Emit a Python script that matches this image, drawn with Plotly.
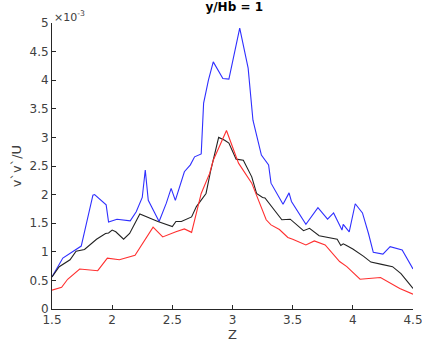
import plotly.graph_objects as go

# values in units of 1e-3
blue_z = [1.50, 1.59, 1.743, 1.84, 1.854, 1.95, 1.97, 2.04, 2.15, 2.20, 2.25, 2.275, 2.30, 2.35, 2.39,
          2.45, 2.49, 2.525, 2.575, 2.60, 2.65, 2.685, 2.74, 2.76, 2.80, 2.84, 2.92, 2.97, 3.06, 3.13,
          3.17, 3.24, 3.30, 3.32, 3.42, 3.47, 3.49, 3.61, 3.71, 3.79, 3.84, 3.91, 3.92, 3.97, 4.02,
          4.08, 4.13, 4.17, 4.25, 4.31, 4.41, 4.50]
blue_v = [0.56, 0.89, 1.10, 1.99, 2.00, 1.82, 1.52, 1.57, 1.54, 1.70, 1.95, 2.43, 1.90, 1.70, 1.53,
          1.85, 2.11, 1.90, 2.25, 2.40, 2.52, 2.66, 2.71, 3.60, 4.00, 4.32, 4.03, 4.02, 4.91, 4.21,
          3.30, 2.69, 2.52, 2.20, 1.83, 2.03, 1.88, 1.48, 1.77, 1.57, 1.68, 1.38, 1.48, 1.35, 1.84,
          1.68, 1.32, 0.99, 0.96, 1.09, 1.03, 0.70]

black_z = [1.50, 1.56, 1.65, 1.70, 1.77, 1.87, 1.945, 1.97, 2.00, 2.03, 2.095, 2.145, 2.23, 2.31,
           2.38, 2.50, 2.53, 2.575, 2.62, 2.66, 2.70, 2.78, 2.82, 2.885, 2.935, 2.97, 3.03, 3.09,
           3.16, 3.20, 3.25, 3.27, 3.41, 3.48, 3.59, 3.64, 3.72, 3.78, 3.87, 3.90, 3.92, 3.94, 4.00,
           4.09, 4.15, 4.24, 4.33, 4.40, 4.50]
black_v = [0.56, 0.74, 0.86, 1.01, 1.04, 1.22, 1.32, 1.33, 1.38, 1.35, 1.22, 1.32, 1.66, 1.59,
           1.53, 1.44, 1.53, 1.53, 1.57, 1.61, 1.79, 2.02, 2.43, 3.00, 2.95, 2.90, 2.62, 2.60,
           2.31, 2.02, 1.95, 1.94, 1.56, 1.57, 1.37, 1.41, 1.28, 1.26, 1.22, 1.11, 1.14, 1.12, 1.05,
           0.92, 0.82, 0.78, 0.74, 0.62, 0.36]

red_z = [1.50, 1.58, 1.63, 1.73, 1.88, 1.96, 2.06, 2.19, 2.34, 2.42, 2.53, 2.60, 2.66, 2.74, 2.81,
         2.84, 2.95, 3.05, 3.16, 3.28, 3.32, 3.39, 3.46, 3.50, 3.61, 3.68, 3.77, 3.89, 3.95, 4.06,
         4.23, 4.39, 4.50]
red_v = [0.33, 0.38, 0.52, 0.70, 0.67, 0.89, 0.86, 0.94, 1.43, 1.26, 1.35, 1.40, 1.34, 2.02, 2.37,
         2.60, 3.12, 2.55, 2.20, 1.56, 1.47, 1.39, 1.25, 1.22, 1.12, 1.19, 1.12, 0.83, 0.74, 0.52,
         0.55, 0.36, 0.26]

x_ticks = [1.5, 2, 2.5, 3, 3.5, 4, 4.5]
y_ticks = [0, 0.5, 1, 1.5, 2, 2.5, 3, 3.5, 4, 4.5, 5]

fig = go.Figure()
fig.add_trace(go.Scatter(x=blue_z, y=blue_v, mode="lines", line=dict(color="#2f2fff", width=1.1)))
fig.add_trace(go.Scatter(x=black_z, y=black_v, mode="lines", line=dict(color="#222222", width=1.1)))
fig.add_trace(go.Scatter(x=red_z, y=red_v, mode="lines", line=dict(color="#ff2f2f", width=1.1)))

axis_font = dict(family="DejaVu Sans", size=12, color="#404040")
fig.update_layout(
    width=422, height=347,
    margin=dict(l=52, r=9, t=23, b=38),
    paper_bgcolor="white", plot_bgcolor="white",
    showlegend=False,
    title=dict(text="<b>y/Hb = 1</b>", x=0.555, xanchor="center", y=0.992, yanchor="top",
               font=dict(family="DejaVu Sans", size=12, color="black")),
    xaxis=dict(range=[1.5, 4.5], tickvals=x_ticks, ticktext=[str(t) for t in x_ticks],
               automargin=False, ticklabeloverflow="allow",
               showgrid=False, zeroline=False, showline=True, linecolor="#262626", linewidth=1,
               ticks="inside", ticklen=4, tickcolor="#262626", tickfont=axis_font,
               title=dict(text="Z", font=dict(family="DejaVu Sans", size=13, color="#404040"), standoff=3)),
    yaxis=dict(range=[0, 5], tickvals=y_ticks, ticktext=[("%g" % t) for t in y_ticks],
               automargin=False, ticklabeloverflow="allow",
               showgrid=False, zeroline=False, showline=True, linecolor="#262626", linewidth=1,
               ticks="inside", ticklen=4, tickcolor="#262626", tickfont=axis_font,
               title=dict(text="v`v`/U", font=dict(family="DejaVu Sans", size=13, color="#404040"), standoff=4)),
)
fig.add_annotation(x=0, y=1, xref="paper", yref="paper", xanchor="left", yanchor="bottom",
                   text="×10<sup>-3</sup>", showarrow=False, yshift=-3,
                   font=dict(family="DejaVu Sans", size=11, color="#404040"))
fig.write_html("out.html")
